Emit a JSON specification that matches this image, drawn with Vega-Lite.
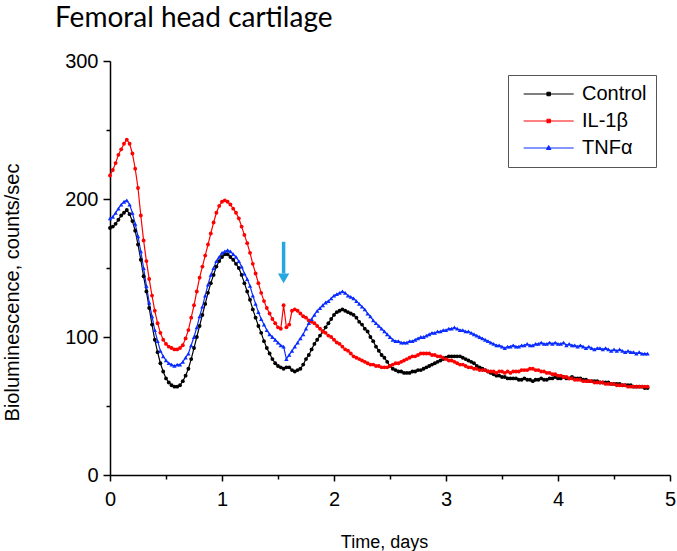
{
  "$schema": "https://vega.github.io/schema/vega-lite/v6.json",
  "width": 560,
  "height": 414,
  "autosize": {"type": "none"},
  "padding": {"left": 110, "top": 61, "right": 7, "bottom": 76},
  "background": "white",
  "config": {"view": {"stroke": null}, "font": "Liberation Sans"},
  "title": {"text": "Femoral head cartilage", "anchor": "start", "frame": "group", "font": "Lato", "fontSize": 28, "fontWeight": "normal", "color": "#000", "dx": -55, "offset": 18},
  "encoding": {
    "x": {"field": "t", "type": "quantitative", "scale": {"domain": [0, 5], "nice": false},
      "axis": {"values": [0, 0.5, 1, 1.5, 2, 2.5, 3, 3.5, 4, 4.5, 5], "labelExpr": "datum.value % 1 === 0 ? format(datum.value, 'd') : ''",
        "tickSize": {"condition": {"test": "datum.value % 1 === 0", "value": 6}, "value": 4},
        "title": "Time, days", "grid": false, "domainColor": "#000", "domainWidth": 1.5, "tickColor": "#000", "tickWidth": 1.5,
        "labelFont": "Liberation Sans", "labelFontSize": 20, "labelColor": "#000", "labelPadding": 8, "labelFlush": false, "labelOverlap": false,
        "titleFont": "Liberation Sans", "titleFontSize": 18, "titleFontWeight": "normal", "titleColor": "#000", "titleX": 274, "titleY": 72, "titleBaseline": "alphabetic"}},
    "y": {"field": "v", "type": "quantitative", "scale": {"domain": [0, 300], "nice": false},
      "axis": {"values": [0, 50, 100, 150, 200, 250, 300], "labelExpr": "datum.value % 100 === 0 ? format(datum.value, 'd') : ''",
        "tickSize": {"condition": {"test": "datum.value % 100 === 0", "value": 7}, "value": 4},
        "title": "Bioluminescence, counts/sec", "grid": false, "domainColor": "#000", "domainWidth": 1.5, "tickColor": "#000", "tickWidth": 1.5,
        "labelFont": "Liberation Sans", "labelFontSize": 20, "labelColor": "#000", "labelPadding": 5, "labelFlush": false, "labelOverlap": false,
        "titleFont": "Liberation Sans", "titleFontSize": 20, "titleFontWeight": "normal", "titleColor": "#000", "titleX": -98, "titleY": 231, "titleAngle": -90, "titleAlign": "center", "titleBaseline": "middle"}}
  },
  "layer": [
    {
      "data": {"values": [
        {"t":0,"Control":179,"IL-1β":217,"TNFα":186},
        {"t":0.025,"Control":180,"IL-1β":221,"TNFα":187},
        {"t":0.05,"Control":182,"IL-1β":226,"TNFα":190},
        {"t":0.075,"Control":185,"IL-1β":232,"TNFα":193},
        {"t":0.1,"Control":188,"IL-1β":236,"TNFα":196},
        {"t":0.125,"Control":190,"IL-1β":240,"TNFα":198},
        {"t":0.15,"Control":192,"IL-1β":243,"TNFα":199},
        {"t":0.175,"Control":189,"IL-1β":240,"TNFα":196},
        {"t":0.2,"Control":184,"IL-1β":233,"TNFα":190},
        {"t":0.225,"Control":177,"IL-1β":222,"TNFα":182},
        {"t":0.25,"Control":167,"IL-1β":208,"TNFα":173},
        {"t":0.275,"Control":156,"IL-1β":188,"TNFα":162},
        {"t":0.3,"Control":144,"IL-1β":170,"TNFα":150},
        {"t":0.325,"Control":133,"IL-1β":155,"TNFα":137},
        {"t":0.35,"Control":121,"IL-1β":142,"TNFα":125},
        {"t":0.375,"Control":109,"IL-1β":130,"TNFα":115},
        {"t":0.4,"Control":98,"IL-1β":119,"TNFα":105},
        {"t":0.425,"Control":89,"IL-1β":110,"TNFα":97},
        {"t":0.45,"Control":81,"IL-1β":103,"TNFα":90},
        {"t":0.475,"Control":75,"IL-1β":98,"TNFα":86},
        {"t":0.5,"Control":70,"IL-1β":95,"TNFα":83},
        {"t":0.525,"Control":67,"IL-1β":93,"TNFα":81},
        {"t":0.55,"Control":65,"IL-1β":92,"TNFα":80},
        {"t":0.575,"Control":64,"IL-1β":91,"TNFα":79},
        {"t":0.6,"Control":64,"IL-1β":91,"TNFα":80},
        {"t":0.625,"Control":65,"IL-1β":92,"TNFα":80},
        {"t":0.65,"Control":68,"IL-1β":94,"TNFα":82},
        {"t":0.675,"Control":72,"IL-1β":99,"TNFα":85},
        {"t":0.7,"Control":77,"IL-1β":105,"TNFα":88},
        {"t":0.725,"Control":84,"IL-1β":114,"TNFα":94},
        {"t":0.75,"Control":92,"IL-1β":123,"TNFα":100},
        {"t":0.775,"Control":100,"IL-1β":133,"TNFα":107},
        {"t":0.8,"Control":108,"IL-1β":143,"TNFα":115},
        {"t":0.825,"Control":116,"IL-1β":151,"TNFα":122},
        {"t":0.85,"Control":124,"IL-1β":159,"TNFα":130},
        {"t":0.875,"Control":132,"IL-1β":167,"TNFα":138},
        {"t":0.9,"Control":139,"IL-1β":175,"TNFα":145},
        {"t":0.925,"Control":145,"IL-1β":183,"TNFα":150},
        {"t":0.95,"Control":151,"IL-1β":190,"TNFα":155},
        {"t":0.975,"Control":155,"IL-1β":195,"TNFα":158},
        {"t":1,"Control":158,"IL-1β":198,"TNFα":161},
        {"t":1.025,"Control":160,"IL-1β":199,"TNFα":162},
        {"t":1.05,"Control":160,"IL-1β":198,"TNFα":163},
        {"t":1.075,"Control":158,"IL-1β":196,"TNFα":162},
        {"t":1.1,"Control":156,"IL-1β":193,"TNFα":160},
        {"t":1.125,"Control":153,"IL-1β":190,"TNFα":158},
        {"t":1.15,"Control":150,"IL-1β":186,"TNFα":155},
        {"t":1.175,"Control":145,"IL-1β":180,"TNFα":151},
        {"t":1.2,"Control":139,"IL-1β":174,"TNFα":146},
        {"t":1.225,"Control":133,"IL-1β":168,"TNFα":142},
        {"t":1.25,"Control":127,"IL-1β":161,"TNFα":137},
        {"t":1.275,"Control":120,"IL-1β":153,"TNFα":130},
        {"t":1.3,"Control":114,"IL-1β":146,"TNFα":124},
        {"t":1.325,"Control":108,"IL-1β":139,"TNFα":118},
        {"t":1.35,"Control":103,"IL-1β":132,"TNFα":113},
        {"t":1.375,"Control":97,"IL-1β":126,"TNFα":109},
        {"t":1.4,"Control":92,"IL-1β":121,"TNFα":105},
        {"t":1.425,"Control":88,"IL-1β":117,"TNFα":102},
        {"t":1.45,"Control":84,"IL-1β":113,"TNFα":100},
        {"t":1.475,"Control":81,"IL-1β":110,"TNFα":98},
        {"t":1.5,"Control":79,"IL-1β":107,"TNFα":96},
        {"t":1.525,"Control":78,"IL-1β":106,"TNFα":94},
        {"t":1.55,"Control":77,"IL-1β":123,"TNFα":93},
        {"t":1.575,"Control":78,"IL-1β":107,"TNFα":84},
        {"t":1.6,"Control":78,"IL-1β":109,"TNFα":87},
        {"t":1.625,"Control":76,"IL-1β":119,"TNFα":90},
        {"t":1.65,"Control":75,"IL-1β":120,"TNFα":93},
        {"t":1.675,"Control":76,"IL-1β":119,"TNFα":96},
        {"t":1.7,"Control":77,"IL-1β":117,"TNFα":99},
        {"t":1.725,"Control":80,"IL-1β":115,"TNFα":102},
        {"t":1.75,"Control":84,"IL-1β":114,"TNFα":106},
        {"t":1.775,"Control":87,"IL-1β":112,"TNFα":110},
        {"t":1.8,"Control":91,"IL-1β":111,"TNFα":113},
        {"t":1.825,"Control":95,"IL-1β":110,"TNFα":116},
        {"t":1.85,"Control":98,"IL-1β":108,"TNFα":119},
        {"t":1.875,"Control":101,"IL-1β":106,"TNFα":121},
        {"t":1.9,"Control":104,"IL-1β":104,"TNFα":123},
        {"t":1.925,"Control":107,"IL-1β":103,"TNFα":125},
        {"t":1.95,"Control":110,"IL-1β":101,"TNFα":126},
        {"t":1.975,"Control":113,"IL-1β":100,"TNFα":128},
        {"t":2,"Control":116,"IL-1β":98,"TNFα":130},
        {"t":2.025,"Control":118,"IL-1β":96,"TNFα":131},
        {"t":2.05,"Control":119,"IL-1β":95,"TNFα":132},
        {"t":2.075,"Control":120,"IL-1β":93,"TNFα":133},
        {"t":2.1,"Control":119,"IL-1β":91,"TNFα":132},
        {"t":2.125,"Control":118,"IL-1β":90,"TNFα":130},
        {"t":2.15,"Control":117,"IL-1β":88,"TNFα":129},
        {"t":2.175,"Control":116,"IL-1β":86,"TNFα":128},
        {"t":2.2,"Control":114,"IL-1β":85,"TNFα":126},
        {"t":2.225,"Control":111,"IL-1β":84,"TNFα":124},
        {"t":2.25,"Control":109,"IL-1β":83,"TNFα":122},
        {"t":2.275,"Control":106,"IL-1β":82,"TNFα":120},
        {"t":2.3,"Control":104,"IL-1β":81,"TNFα":117},
        {"t":2.325,"Control":100,"IL-1β":80,"TNFα":115},
        {"t":2.35,"Control":97,"IL-1β":80,"TNFα":112},
        {"t":2.375,"Control":93,"IL-1β":79,"TNFα":110},
        {"t":2.4,"Control":90,"IL-1β":79,"TNFα":108},
        {"t":2.425,"Control":87,"IL-1β":78,"TNFα":106},
        {"t":2.45,"Control":85,"IL-1β":78,"TNFα":104},
        {"t":2.475,"Control":82,"IL-1β":78,"TNFα":102},
        {"t":2.5,"Control":79,"IL-1β":79,"TNFα":100},
        {"t":2.525,"Control":77,"IL-1β":80,"TNFα":98},
        {"t":2.55,"Control":76,"IL-1β":81,"TNFα":97},
        {"t":2.575,"Control":75,"IL-1β":81,"TNFα":97},
        {"t":2.6,"Control":75,"IL-1β":82,"TNFα":96},
        {"t":2.625,"Control":74,"IL-1β":83,"TNFα":96},
        {"t":2.65,"Control":74,"IL-1β":84,"TNFα":96},
        {"t":2.675,"Control":74,"IL-1β":85,"TNFα":97},
        {"t":2.7,"Control":75,"IL-1β":86,"TNFα":97},
        {"t":2.725,"Control":75,"IL-1β":86,"TNFα":98},
        {"t":2.75,"Control":76,"IL-1β":87,"TNFα":99},
        {"t":2.775,"Control":76,"IL-1β":88,"TNFα":100},
        {"t":2.8,"Control":77,"IL-1β":88,"TNFα":100},
        {"t":2.825,"Control":78,"IL-1β":88,"TNFα":101},
        {"t":2.85,"Control":79,"IL-1β":88,"TNFα":102},
        {"t":2.875,"Control":80,"IL-1β":87,"TNFα":103},
        {"t":2.9,"Control":81,"IL-1β":87,"TNFα":103},
        {"t":2.925,"Control":82,"IL-1β":86,"TNFα":104},
        {"t":2.95,"Control":83,"IL-1β":86,"TNFα":104},
        {"t":2.975,"Control":84,"IL-1β":85,"TNFα":105},
        {"t":3,"Control":85,"IL-1β":84,"TNFα":105},
        {"t":3.025,"Control":86,"IL-1β":83,"TNFα":106},
        {"t":3.05,"Control":86,"IL-1β":83,"TNFα":106},
        {"t":3.075,"Control":86,"IL-1β":82,"TNFα":107},
        {"t":3.1,"Control":86,"IL-1β":81,"TNFα":106},
        {"t":3.125,"Control":86,"IL-1β":80,"TNFα":105},
        {"t":3.15,"Control":85,"IL-1β":80,"TNFα":105},
        {"t":3.175,"Control":84,"IL-1β":79,"TNFα":104},
        {"t":3.2,"Control":83,"IL-1β":78,"TNFα":104},
        {"t":3.225,"Control":82,"IL-1β":78,"TNFα":103},
        {"t":3.25,"Control":81,"IL-1β":77,"TNFα":102},
        {"t":3.275,"Control":79,"IL-1β":77,"TNFα":101},
        {"t":3.3,"Control":78,"IL-1β":76,"TNFα":100},
        {"t":3.325,"Control":77,"IL-1β":76,"TNFα":99},
        {"t":3.35,"Control":76,"IL-1β":76,"TNFα":98},
        {"t":3.375,"Control":75,"IL-1β":75,"TNFα":97},
        {"t":3.4,"Control":74,"IL-1β":75,"TNFα":96},
        {"t":3.425,"Control":73,"IL-1β":75,"TNFα":95},
        {"t":3.45,"Control":72,"IL-1β":74,"TNFα":94},
        {"t":3.475,"Control":72,"IL-1β":75,"TNFα":94},
        {"t":3.5,"Control":71,"IL-1β":75,"TNFα":93},
        {"t":3.525,"Control":71,"IL-1β":74,"TNFα":92},
        {"t":3.55,"Control":70,"IL-1β":75,"TNFα":93},
        {"t":3.575,"Control":70,"IL-1β":74,"TNFα":93},
        {"t":3.6,"Control":70,"IL-1β":75,"TNFα":94},
        {"t":3.625,"Control":70,"IL-1β":75,"TNFα":93},
        {"t":3.65,"Control":69,"IL-1β":75,"TNFα":93},
        {"t":3.675,"Control":69,"IL-1β":76,"TNFα":94},
        {"t":3.7,"Control":70,"IL-1β":76,"TNFα":94},
        {"t":3.725,"Control":69,"IL-1β":76,"TNFα":95},
        {"t":3.75,"Control":69,"IL-1β":77,"TNFα":94},
        {"t":3.775,"Control":68,"IL-1β":77,"TNFα":94},
        {"t":3.8,"Control":69,"IL-1β":76,"TNFα":95},
        {"t":3.825,"Control":69,"IL-1β":76,"TNFα":95},
        {"t":3.85,"Control":70,"IL-1β":75,"TNFα":96},
        {"t":3.875,"Control":69,"IL-1β":75,"TNFα":95},
        {"t":3.9,"Control":69,"IL-1β":74,"TNFα":95},
        {"t":3.925,"Control":70,"IL-1β":74,"TNFα":96},
        {"t":3.95,"Control":70,"IL-1β":73,"TNFα":95},
        {"t":3.975,"Control":71,"IL-1β":73,"TNFα":96},
        {"t":4,"Control":70,"IL-1β":72,"TNFα":95},
        {"t":4.025,"Control":70,"IL-1β":72,"TNFα":95},
        {"t":4.05,"Control":71,"IL-1β":71,"TNFα":96},
        {"t":4.075,"Control":70,"IL-1β":71,"TNFα":94},
        {"t":4.1,"Control":70,"IL-1β":70,"TNFα":95},
        {"t":4.125,"Control":71,"IL-1β":70,"TNFα":94},
        {"t":4.15,"Control":70,"IL-1β":69,"TNFα":94},
        {"t":4.175,"Control":70,"IL-1β":69,"TNFα":93},
        {"t":4.2,"Control":70,"IL-1β":69,"TNFα":94},
        {"t":4.225,"Control":69,"IL-1β":68,"TNFα":93},
        {"t":4.25,"Control":69,"IL-1β":68,"TNFα":92},
        {"t":4.275,"Control":68,"IL-1β":68,"TNFα":93},
        {"t":4.3,"Control":68,"IL-1β":68,"TNFα":92},
        {"t":4.325,"Control":68,"IL-1β":67,"TNFα":91},
        {"t":4.35,"Control":68,"IL-1β":67,"TNFα":92},
        {"t":4.375,"Control":67,"IL-1β":67,"TNFα":92},
        {"t":4.4,"Control":67,"IL-1β":67,"TNFα":91},
        {"t":4.425,"Control":67,"IL-1β":66,"TNFα":92},
        {"t":4.45,"Control":67,"IL-1β":66,"TNFα":91},
        {"t":4.475,"Control":66,"IL-1β":66,"TNFα":90},
        {"t":4.5,"Control":66,"IL-1β":66,"TNFα":91},
        {"t":4.525,"Control":66,"IL-1β":65,"TNFα":90},
        {"t":4.55,"Control":66,"IL-1β":65,"TNFα":91},
        {"t":4.575,"Control":65,"IL-1β":65,"TNFα":90},
        {"t":4.6,"Control":65,"IL-1β":65,"TNFα":89},
        {"t":4.625,"Control":65,"IL-1β":64,"TNFα":90},
        {"t":4.65,"Control":65,"IL-1β":64,"TNFα":89},
        {"t":4.675,"Control":64,"IL-1β":64,"TNFα":89},
        {"t":4.7,"Control":64,"IL-1β":64,"TNFα":88},
        {"t":4.725,"Control":64,"IL-1β":64,"TNFα":89},
        {"t":4.75,"Control":64,"IL-1β":64,"TNFα":88},
        {"t":4.775,"Control":63,"IL-1β":64,"TNFα":88},
        {"t":4.8,"Control":63,"IL-1β":64,"TNFα":88}
      ]},
      "transform": [{"fold": ["Control", "IL-1β", "TNFα"], "as": ["series", "v"]}],
      "layer": [
        {
          "mark": {"type": "line", "strokeWidth": 1.2},
          "encoding": {
            "color": {"field": "series", "type": "nominal",
              "scale": {"domain": ["Control", "IL-1β", "TNFα"], "range": ["#000000", "#ff0000", "#0a2cff"]},
              "legend": {"title": null, "orient": "none", "legendX": 398, "legendY": 14, "strokeColor": "#555", "padding": 9,
                "labelFont": "Liberation Sans", "labelFontSize": 20, "labelColor": "#000", "labelOffset": 45, "rowPadding": 7,
                "symbolType": "M-0.4,0H5.6M2.39,-0.21H2.81V0.21H2.39Z", "symbolSize": 278, "symbolStrokeWidth": 1,
                "encode": {"symbols": {"update": {
                  "fill": {"scale": "color", "field": "value"},
                  "shape": {"signal": "datum.value === 'TNFα' ? 'M-0.4,0H5.6M2.6,-0.3L2.87,0.18H2.33Z' : 'M-0.4,0H5.6M2.39,-0.21H2.81V0.21H2.39Z'"}
                }}}}
            }
          }
        },
        {
          "transform": [{"filter": "datum.series !== 'TNFα'"}],
          "mark": {"type": "point", "filled": true, "shape": "circle", "size": 15, "opacity": 1},
          "encoding": {"color": {"field": "series", "type": "nominal", "legend": null}}
        },
        {
          "transform": [{"filter": "datum.series === 'TNFα'"}],
          "mark": {"type": "point", "filled": true, "shape": "triangle-up", "size": 19, "opacity": 1},
          "encoding": {"color": {"field": "series", "type": "nominal", "legend": null}}
        }
      ]
    },
    {
      "data": {"values": [{"t": 1.55, "v": 169, "v2": 146}]},
      "mark": {"type": "rule", "color": "#27a7df", "strokeWidth": 3.5},
      "encoding": {"y2": {"field": "v2"}}
    },
    {
      "data": {"values": [{"t": 1.55, "v": 142.5}]},
      "mark": {"type": "point", "shape": "triangle-down", "filled": true, "size": 130, "color": "#27a7df", "opacity": 1},
      "encoding": {}
    }
  ]
}
